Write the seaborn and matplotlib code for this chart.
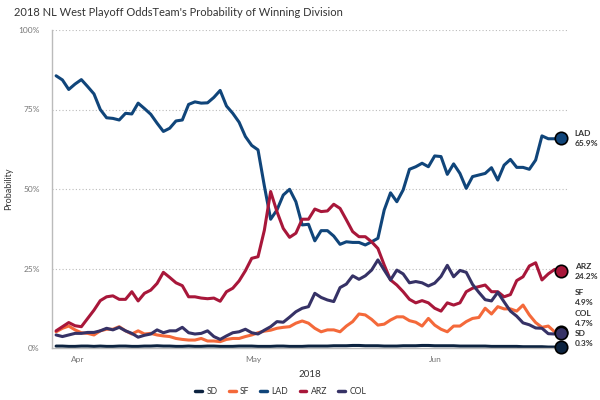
import seaborn as sns
import matplotlib.pyplot as plt
import pandas as pd
from matplotlib.lines import Line2D

teams = ['SD', 'SF', 'LAD', 'ARZ', 'COL']
colors = ['#0c2340', '#f4693a', '#10457a', '#a8173a', '#363266']

sd = [0.6, 0.6, 0.5, 0.5, 0.6, 0.6, 0.5, 0.6, 0.5, 0.5, 0.6, 0.6, 0.5, 0.5, 0.6, 0.6,
      0.7, 0.6, 0.6, 0.5, 0.5, 0.6, 0.5, 0.5, 0.6, 0.6, 0.5, 0.5, 0.5, 0.6, 0.6, 0.6,
      0.5, 0.5, 0.5, 0.6, 0.6, 0.5, 0.5, 0.5, 0.6, 0.6, 0.6, 0.6, 0.7, 0.7, 0.7, 0.8,
      0.8, 0.7, 0.7, 0.7, 0.6, 0.6, 0.6, 0.7, 0.7, 0.7, 0.8, 0.8, 0.7, 0.7, 0.7, 0.7,
      0.6, 0.6, 0.6, 0.6, 0.6, 0.5, 0.5, 0.5, 0.5, 0.5, 0.4, 0.4, 0.4, 0.4, 0.3, 0.3, 0.3]
sf = [5.1, 6.2, 6.9, 5.7, 4.8, 4.6, 4.1, 5.4, 5.9, 5.9, 6.7, 5.4, 4.4, 5.4, 4.4, 4.6,
      4.1, 3.8, 3.6, 3.0, 2.7, 2.5, 2.5, 3.0, 2.2, 2.2, 2.0, 2.7, 3.0, 3.0, 3.6, 4.1,
      4.8, 5.3, 5.6, 6.2, 6.5, 6.7, 7.8, 8.5, 7.8, 6.2, 5.1, 5.7, 5.7, 5.1, 6.9, 8.3,
      10.7, 10.4, 9.0, 7.2, 7.5, 8.8, 9.8, 9.8, 8.6, 8.1, 6.9, 9.3, 7.2, 5.9, 5.1, 6.9,
      6.9, 8.3, 9.3, 9.6, 12.5, 10.7, 13.0, 12.3, 12.3, 11.6, 13.5, 10.4, 8.0, 6.5, 6.9, 5.1, 4.9]
lad = [85.6, 84.3, 81.3, 83.0, 84.4, 82.2, 79.9, 75.0, 72.4, 72.2, 71.7, 73.8, 73.6, 77.0, 75.3, 73.5,
       70.7, 68.1, 69.1, 71.4, 71.7, 76.6, 77.4, 77.0, 77.1, 78.8, 81.0, 76.1, 73.8, 71.0, 66.5, 63.7,
       62.3, 51.0, 40.5, 43.4, 48.1, 49.9, 46.0, 38.7, 38.9, 33.7, 36.9, 36.9, 35.2, 32.6, 33.4, 33.2,
       33.2, 32.4, 33.4, 34.5, 43.4, 48.8, 46.0, 49.7, 56.2, 57.0, 58.1, 57.0, 60.4, 60.2, 54.6, 57.9,
       54.9, 50.2, 53.9, 54.4, 54.9, 56.7, 52.8, 57.5, 59.3, 56.8, 56.8, 56.2, 59.1, 66.7, 65.8, 65.8, 65.9]
arz = [5.4, 6.7, 8.0, 7.0, 6.7, 9.3, 11.9, 14.9, 16.1, 16.4, 15.3, 15.3, 17.7, 14.8, 17.2, 18.2,
       20.3, 23.8, 22.2, 20.5, 19.6, 16.1, 16.1, 15.7, 15.5, 15.7, 14.7, 17.7, 18.8, 21.1, 24.3, 28.2,
       28.7, 37.0, 49.2, 42.9, 37.6, 34.8, 36.1, 40.5, 40.5, 43.7, 42.9, 43.1, 45.2, 43.9, 40.3, 36.6,
       35.0, 35.0, 33.4, 31.3, 26.1, 21.4, 19.8, 17.7, 15.3, 14.2, 14.9, 14.2, 12.5, 11.6, 14.2, 13.5,
       14.2, 17.7, 18.8, 19.3, 19.8, 17.7, 17.7, 16.1, 16.8, 21.2, 22.4, 25.8, 26.8, 21.4, 23.3, 24.7, 24.2]
col = [4.1, 3.6, 4.1, 4.6, 4.6, 4.9, 4.9, 5.4, 6.2, 5.7, 6.5, 5.4, 4.6, 3.4, 4.0, 4.4,
       5.7, 4.8, 5.4, 5.4, 6.5, 4.8, 4.4, 4.6, 5.4, 3.6, 2.7, 3.8, 4.8, 5.1, 5.9, 4.8,
       4.4, 5.6, 6.7, 8.3, 8.1, 9.7, 11.4, 12.5, 13.0, 17.2, 15.9, 15.1, 14.6, 19.0, 20.1, 22.7,
       21.6, 22.7, 24.5, 27.7, 24.5, 21.4, 24.5, 23.3, 20.5, 20.9, 20.5, 19.5, 20.4, 22.5, 26.0, 22.4,
       24.4, 23.8, 20.0, 17.5, 15.2, 14.8, 17.5, 14.5, 11.6, 10.0, 7.9, 7.3, 6.3, 6.2, 4.5, 4.4, 4.7]

dates = pd.date_range('2018-03-28 08:00', '2018-06-22 08:00', periods=len(lad))
series = {'SD': sd, 'SF': sf, 'LAD': lad, 'ARZ': arz, 'COL': col}
df = pd.concat([pd.DataFrame({'date': dates, 'prob': v, 'team': k}) for k, v in series.items()])

sns.set_style('white')
plt.rcParams['font.family'] = ['Lato', 'DejaVu Sans']

fig = plt.figure(figsize=(6, 4), dpi=100)
ax = fig.add_axes([0.087, 0.13, 0.858, 0.795])

sns.lineplot(data=df, x='date', y='prob', hue='team', hue_order=teams,
             palette=colors, linewidth=2.2, legend=False, ax=ax)

ax.set_ylim(0, 100)
ax.set_xlim(dates[0] - pd.Timedelta(hours=16), dates[-1] + pd.Timedelta(hours=25))
ax.set_yticks([0, 25, 50, 75, 100])
ax.set_yticklabels(['0%', '25%', '50%', '75%', '100%'])
ax.set_xticks(pd.to_datetime(['2018-04-01', '2018-05-01', '2018-06-01']))
ax.set_xticklabels(['Apr', 'May', 'Jun'])
ax.tick_params(axis='y', length=0, labelsize=6, labelcolor='#777777', pad=9)
ax.tick_params(axis='x', length=4, width=0.6, color='#bbbbbb', labelsize=6,
               labelcolor='#777777', pad=2)
ax.set_ylabel('Probability', fontsize=6.5, color='#333333', labelpad=4)
ax.set_xlabel('2018', fontsize=7, color='#333333', labelpad=5)

for y in [25, 50, 75, 100]:
    ax.axhline(y, color='#bbbbbb', linestyle=(0, (1, 2)), linewidth=0.8, zorder=0)

for s in ['top', 'right']:
    ax.spines[s].set_visible(False)
for s in ['left', 'bottom']:
    ax.spines[s].set_color('#bbbbbb')
    ax.spines[s].set_linewidth(1)

# end markers and labels
offsets = {'LAD': 0, 'ARZ': 0, 'SF': 25, 'COL': 10.5, 'SD': 5.8}
for team, c in zip(['SD', 'SF', 'COL', 'ARZ', 'LAD'], ['#0c2340', '#f4693a', '#363266', '#a8173a', '#10457a']):
    v = series[team][-1]
    ax.scatter([dates[-1]], [v], s=80, color=c, edgecolor='black', linewidth=1.2,
               zorder=5, clip_on=False)
    ax.annotate(f'{team}\n{v:.1f}%', xy=(dates[-1], v), xytext=(10, offsets[team]),
                textcoords='offset points', va='center', ha='left', fontsize=6,
                fontweight='bold', color='#333333', linespacing=1.5,
                annotation_clip=False)

fig.text(0.023, 0.97, "2018 NL West Playoff OddsTeam's Probability of Winning Division",
         fontsize=8, color='#333333', va='center', ha='left')

handles = [Line2D([0], [0], color=c, linewidth=2.5) for c in colors]
fig.legend(handles, teams, loc='center', bbox_to_anchor=(0.468, 0.02), ncol=5,
           frameon=False, fontsize=6.2, handlelength=0.8, handletextpad=0.5,
           columnspacing=1.3, labelcolor='#333333')

fig.savefig('out.png', dpi=100)
